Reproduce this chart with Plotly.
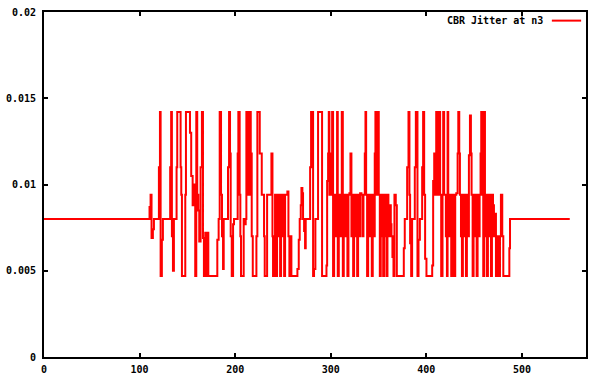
import plotly.graph_objects as go

series_name = "CBR Jitter at n3"

# breakpoints of the step series (time, jitter)
time = [
    0, 110.4, 111.5, 112.5, 113.9, 115.0, 120.2, 121.3, 122.0, 123.3, 124.4,
    132.0, 133.0, 133.8, 134.9, 135.9, 138.7, 139.4, 142.9, 143.6, 144.3,
    147.8, 148.5, 152.7, 154.0, 155.5, 156.9, 158.2, 159.3, 160.3, 161.4,
    162.4, 163.8, 165.2, 166.3, 167.3, 168.7, 169.8, 170.8, 171.9, 181.3,
    182.7,
    183.8, 185.2, 186.2, 187.3, 188.0, 192.5, 193.6, 194.6, 195.3, 196.4,
    197.8, 198.8, 202.6, 203.3, 204.7, 205.4, 206.1, 208.9, 210.0, 211.0,
    211.7, 213.1, 213.8, 214.5, 215.2, 216.3, 217.3, 218.4, 222.2, 223.2,
    225.7, 227.8, 230.2, 230.9, 233.4, 237.9, 239.0, 239.6, 240.7, 241.7,
    242.8, 243.8, 244.9, 245.9, 247.0, 248.0, 249.1, 250.1, 251.2, 252.2,
    254.6, 255.7, 256.7, 257.8, 258.8,
    265.1, 266.5, 267.5, 268.6, 269.3, 270.3, 271.0, 272.1, 273.1, 273.8,
    278.4, 279.4, 281.5, 282.5, 283.9, 286.7, 290.9, 295.5, 296.2, 297.2,
    297.9, 298.6, 299.3, 300.0, 300.7, 301.4, 302.4, 303.5, 304.5, 305.6,
    306.6, 307.3, 308.4, 309.4, 310.5, 311.5, 312.6, 313.6, 314.7, 315.7,
    316.7, 317.4, 318.5, 319.5, 320.6, 321.6, 322.7, 323.4, 324.4, 325.5,
    326.5, 327.6, 328.6, 329.7, 330.7, 332.1, 333.1, 334.2, 335.6, 336.3,
    337.0, 338.0, 339.1, 340.1, 341.2,
    341.8, 342.9, 343.9, 345.0, 346.0, 346.7, 347.8, 349.2, 350.2, 351.3,
    352.3, 353.4, 354.8, 355.8, 356.9, 358.3, 359.3, 360.3, 361.7, 362.8,
    363.5, 364.5, 365.6, 366.6, 368.0, 369.1, 376.4, 377.4, 379.9, 381.3,
    382.3, 383.0, 384.1, 385.1, 387.9, 389.0, 390.7, 391.8, 393.2, 395.6,
    396.6, 397.7, 398.7, 400.1, 406.1, 407.1, 408.2, 409.2, 410.3, 411.3,
    412.3, 413.4, 414.4, 415.5, 416.9, 417.6, 418.6,
    420.4, 421.5, 422.2, 422.9, 423.9, 425.0, 426.0, 427.1, 428.1, 429.2,
    430.2, 431.3, 432.7, 433.4, 434.4, 435.1, 436.2, 437.2, 438.2, 439.3,
    440.3, 441.4, 442.4, 443.5, 444.5, 445.6, 446.6, 447.3, 448.4, 449.4,
    450.5, 451.5, 452.6, 453.6, 454.7, 455.7, 456.7, 457.4, 458.5, 459.5,
    460.6, 461.3, 462.3, 463.4, 464.4, 465.5, 466.5, 467.6, 468.6, 469.7,
    470.7, 471.8, 472.8, 473.8, 474.9, 475.9, 477.0, 478.0, 479.4, 480.5,
    486.8, 487.5, 550.0,
]

jitter = [
    0.0080, 0.0087, 0.0094, 0.0069, 0.0074, 0.0080, 0.0110, 0.0142, 0.0047, 0.0068, 0.0080,
    0.0110, 0.0142, 0.0070, 0.0050, 0.0080, 0.0110, 0.0142, 0.0110, 0.0094, 0.0047,
    0.0094, 0.0142, 0.0130, 0.0105, 0.0088, 0.0100, 0.0047, 0.0142, 0.0094, 0.0085,
    0.0067, 0.0110, 0.0142, 0.0069, 0.0047, 0.0072, 0.0047, 0.0072, 0.0047, 0.0068,
    0.0080,
    0.0142, 0.0094, 0.0070, 0.0051, 0.0080, 0.0110, 0.0142, 0.0118, 0.0070, 0.0047,
    0.0077, 0.0080, 0.0118, 0.0142, 0.0094, 0.0070, 0.0047, 0.0080, 0.0077, 0.0080,
    0.0142, 0.0094, 0.0142, 0.0094, 0.0142, 0.0118, 0.0070, 0.0047, 0.0070, 0.0142,
    0.0118, 0.0094, 0.0070, 0.0047, 0.0094, 0.0118, 0.0070, 0.0047, 0.0070, 0.0094,
    0.0047, 0.0094, 0.0070, 0.0094, 0.0047, 0.0094, 0.0070, 0.0094, 0.0047, 0.0094,
    0.0096, 0.0070, 0.0047, 0.0070, 0.0047,
    0.0051, 0.0068, 0.0080, 0.0088, 0.0098, 0.0095, 0.0080, 0.0073, 0.0063, 0.0080,
    0.0110, 0.0142, 0.0047, 0.0051, 0.0080, 0.0142, 0.0047, 0.0053, 0.0102, 0.0118,
    0.0142, 0.0094, 0.0118, 0.0094, 0.0118, 0.0142, 0.0047, 0.0094, 0.0070, 0.0094,
    0.0142, 0.0047, 0.0094, 0.0070, 0.0094, 0.0142, 0.0047, 0.0094, 0.0070, 0.0094,
    0.0070, 0.0047, 0.0094, 0.0095, 0.0118, 0.0070, 0.0094, 0.0047, 0.0094, 0.0070,
    0.0094, 0.0047, 0.0094, 0.0070, 0.0095, 0.0094, 0.0070, 0.0094, 0.0118, 0.0142,
    0.0094, 0.0047, 0.0094, 0.0070, 0.0094,
    0.0070, 0.0047, 0.0094, 0.0070, 0.0118, 0.0142, 0.0094, 0.0142, 0.0094, 0.0047,
    0.0070, 0.0094, 0.0047, 0.0070, 0.0094, 0.0047, 0.0094, 0.0070, 0.0088, 0.0077,
    0.0070, 0.0058, 0.0047, 0.0094, 0.0088, 0.0047, 0.0063, 0.0080, 0.0110, 0.0142,
    0.0094, 0.0066, 0.0047, 0.0080, 0.0110, 0.0142, 0.0047, 0.0068, 0.0080, 0.0110,
    0.0142, 0.0094, 0.0057, 0.0047, 0.0053, 0.0102, 0.0118, 0.0094, 0.0142, 0.0094,
    0.0118, 0.0142, 0.0094, 0.0047, 0.0094, 0.0142, 0.0094,
    0.0070, 0.0047, 0.0142, 0.0094, 0.0070, 0.0094, 0.0047, 0.0094, 0.0070, 0.0047,
    0.0094, 0.0095, 0.0118, 0.0142, 0.0118, 0.0094, 0.0070, 0.0047, 0.0094, 0.0070,
    0.0094, 0.0047, 0.0094, 0.0070, 0.0117, 0.0140, 0.0118, 0.0094, 0.0047, 0.0094,
    0.0070, 0.0094, 0.0047, 0.0094, 0.0070, 0.0094, 0.0118, 0.0142, 0.0094, 0.0047,
    0.0142, 0.0094, 0.0070, 0.0047, 0.0094, 0.0070, 0.0094, 0.0047, 0.0094, 0.0088,
    0.0070, 0.0083, 0.0047, 0.0070, 0.0058, 0.0047, 0.0070, 0.0094, 0.0070, 0.0047,
    0.0063, 0.0080, 0.0080,
]

x_ticks = [0, 100, 200, 300, 400, 500]
y_ticks = [0, 0.005, 0.01, 0.015, 0.02]
y_tick_labels = ["0", "0.005", "0.01", "0.015", "0.02"]

FONT = "DejaVu Sans Mono"
tick_font = dict(family=FONT, size=10, color="black", weight="bold")

fig = go.Figure()
fig.add_trace(go.Scatter(
    x=time, y=jitter, mode="lines", name=series_name,
    line=dict(color="#ff0000", width=2, shape="hv"),
    showlegend=False,
))

axis_common = dict(
    showgrid=False, zeroline=False, showline=True, linecolor="black",
    linewidth=2, mirror="allticks", ticks="inside", ticklen=4,
    tickwidth=2, tickcolor="black", automargin=False,
    tickfont=tick_font,
)

fig.update_xaxes(range=[0, 567], tickvals=x_ticks, ticklabelstandoff=2,
                 **axis_common)
fig.update_yaxes(range=[0, 0.02], tickvals=y_ticks, ticktext=y_tick_labels,
                 ticklabelstandoff=4, **axis_common)

fig.add_annotation(
    x=0.925, y=0.975, xref="paper", yref="paper", xanchor="right",
    yanchor="middle", text=series_name, showarrow=False,
    font=tick_font,
)
fig.add_shape(type="line", xref="paper", yref="paper",
              x0=0.937, x1=0.991, y0=0.975, y1=0.975,
              line=dict(color="#ff0000", width=2))

fig.update_layout(
    width=589, height=379,
    margin=dict(l=44, r=3, t=12, b=22, autoexpand=False),
    paper_bgcolor="white", plot_bgcolor="white",
    font=dict(family=FONT, size=10, color="black"),
)

fig.write_html(
    "out.html",
    config={"displayModeBar": False},
    post_script="document.body.style.margin='0';document.body.style.padding='0';",
)
